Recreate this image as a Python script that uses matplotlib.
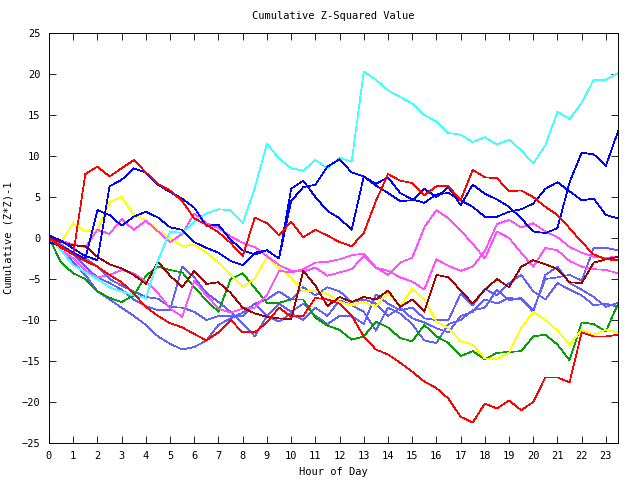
import numpy as np
import matplotlib
matplotlib.use("Agg")
import matplotlib.pyplot as plt

hours = np.arange(0, 24, 0.5)

cyan = [0, -1.5, -3.3, -4.2, -5.0, -6.0, -6.5, -7.0, -7.3, -2.7,
        0.8, 0.6, 2.0, 3.0, 3.5, 3.4, 1.8, 6.1, 11.5, 9.7,
        8.5, 8.2, 9.5, 8.5, 9.8, 9.3, 20.3, 19.3, 18.0, 17.2,
        16.4, 15.0, 14.2, 12.8, 12.6, 11.7, 12.3, 11.4, 12.0, 10.7,
        9.1, 11.3, 15.4, 14.5, 16.5, 19.3, 19.3, 20.1]
blue_a = [0.3, -0.3, -1.3, -2.2, -2.7, 6.3, 7.1, 8.5, 8.0, 6.5,
          5.6, 4.8, 3.7, 1.5, 1.6, -0.2, -1.5, -2.0, -1.5, -2.5,
          6.0, 7.0, 5.0, 3.3, 2.4, 1.0, 7.5, 6.6, 7.4, 5.5,
          4.7, 4.3, 5.3, 5.5, 4.6, 3.8, 2.6, 2.6, 3.2, 3.5,
          4.2, 6.0, 6.8, 5.7, 4.6, 4.8, 2.8, 2.4]
blue_b = [-0.5, -1.0, -1.8, -2.5, 3.4, 2.8, 1.5, 2.6, 3.2, 2.5,
          1.3, 1.0, -0.5, -1.2, -1.8, -2.8, -3.3, -1.8, -1.5, -2.5,
          4.5, 6.2, 6.5, 8.7, 9.6, 8.0, 7.5, 6.4, 5.5, 4.5,
          4.6, 6.0, 5.0, 6.2, 4.0, 6.5, 5.4, 4.7, 3.8, 2.4,
          0.8, 0.6, 1.2, 6.8, 10.4, 10.2, 8.8, 13.0]
red_1 = [0, -1.0, -2.0, 7.8, 8.7, 7.5, 8.5, 9.5, 8.0, 6.6,
         5.8, 4.5, 2.4, 1.6, 0.7, -0.6, -2.2, 2.5, 1.8, 0.3,
         2.0, 0.1, 1.0, 0.3, -0.5, -1.0, 0.6, 4.5, 7.8, 7.0,
         6.7, 5.2, 6.3, 6.3, 4.6, 8.3, 7.4, 7.3, 5.7, 5.8,
         5.0, 3.8, 2.8, 1.2, -0.5, -2.0, -2.6, -2.7]
red_2 = [0, -1.2, -2.0, -2.8, -3.5, -4.5, -5.4, -6.8, -8.4, -9.5,
         -10.4, -10.9, -11.7, -12.5, -11.5, -10.0, -11.5, -11.5, -10.3, -8.5,
         -9.6, -9.5, -7.3, -7.5, -8.0, -9.5, -12.0, -13.6, -14.2, -15.2,
         -16.3, -17.5, -18.3, -19.6, -21.8, -22.5, -20.2, -20.8, -19.8, -21.0,
         -20.0, -17.0, -17.0, -17.6, -11.5, -12.0, -12.0, -11.8]
dark_red = [0, -0.5, -0.9, -1.0, -2.3, -3.2, -3.7, -4.5, -5.6, -2.9,
            -4.6, -6.0, -4.0, -5.6, -5.4, -6.7, -8.5, -9.2, -9.6, -9.8,
            -9.9, -4.0, -5.8, -8.3, -7.2, -7.8, -7.2, -7.5, -6.4, -8.4,
            -7.5, -9.0, -4.5, -4.8, -6.4, -8.0, -6.3, -5.0, -6.0, -3.5,
            -2.7, -3.2, -3.8, -5.4, -5.5, -3.0, -2.6, -2.3]
magenta_l = [0, -1.5, -2.5, -4.0, -4.8, -4.5, -3.9, -4.3, -5.3, -6.7,
             -8.6, -9.6, -5.2, -7.0, -8.6, -9.1, -8.6, -8.5, -7.0, -4.0,
             -4.2, -3.8, -3.0, -2.9, -2.6, -2.1, -1.9, -3.6, -4.5, -3.0,
             -2.4, 1.3, 3.4, 2.4, 0.9, -0.7, -2.5, 0.8, 0.0, -1.8,
             -3.5, -1.2, -1.5, -2.8, -3.5, -3.8, -3.9, -4.3]
magenta_u = [0, -0.3, -0.8, -1.1, 1.0, 0.5, 2.3, 1.0, 2.1, 0.8,
             -0.5, 0.5, 3.0, 1.8, 1.2, 0.2, -0.6, -1.1, -2.2, -3.3,
             -4.0, -4.1, -3.6, -4.6, -4.2, -3.8, -2.2, -3.6, -4.0, -4.8,
             -5.3, -6.3, -2.6, -3.4, -4.0, -3.5, -1.6, 1.7, 2.2, 1.3,
             1.8, 0.8, 0.1, -1.1, -1.8, -2.3, -2.4, -2.3]
yellow = [0, -0.5, 1.8, 0.8, 1.0, 4.4, 5.0, 2.8, 2.2, 0.9,
          0.0, -1.0, -0.8, -1.8, -3.0, -4.5, -6.0, -4.9, -2.3, -3.7,
          -4.8, -6.5, -6.5, -6.8, -7.8, -8.2, -7.8, -8.3, -6.7, -8.4,
          -6.2, -7.5, -10.2, -11.0, -12.6, -13.0, -14.7, -14.8, -14.0, -11.0,
          -9.0, -10.0, -11.3, -13.0, -11.2, -11.8, -11.2, -11.5]
green = [0, -3.0, -4.3, -5.0, -6.5, -7.3, -7.8, -7.0, -4.6, -3.5,
         -3.9, -4.2, -6.0, -7.6, -9.0, -5.0, -4.3, -6.1, -7.9, -7.9,
         -7.5, -7.5, -9.7, -10.7, -11.2, -12.4, -12.0, -10.2, -10.9, -12.2,
         -12.6, -10.6, -12.0, -12.8, -14.4, -13.8, -14.8, -14.0, -13.9, -13.8,
         -12.0, -11.8, -13.0, -14.9, -10.3, -10.5, -11.4, -8.0]
slate_1 = [0, -1.5, -3.0, -4.5, -6.5, -7.5, -8.5, -9.5, -10.6, -12.0,
           -12.9, -13.6, -13.3, -12.5, -10.6, -9.8, -9.1, -8.0, -9.5, -10.2,
           -9.2, -10.0, -8.5, -9.5, -7.6, -8.2, -9.0, -11.3, -8.5, -9.2,
           -10.5, -12.5, -12.8, -10.5, -10.0, -8.8, -8.5, -6.3, -7.6, -7.3,
           -8.8, -5.0, -4.8, -4.5, -5.2, -1.2, -1.2, -1.5]
slate_2 = [0, -1.0, -2.0, -3.5, -4.8, -5.5, -6.3, -7.5, -8.3, -8.8,
           -8.8, -3.5, -4.8, -6.7, -7.8, -9.0, -10.4, -12.0, -9.5, -8.0,
           -9.0, -8.0, -9.5, -10.5, -9.5, -9.5, -10.5, -6.9, -8.0, -8.8,
           -8.5, -9.8, -10.0, -10.0, -6.8, -8.2, -6.2, -7.0, -5.5, -4.5,
           -6.5, -7.5, -5.5, -6.3, -7.0, -8.2, -8.0, -8.4]
slate_3 = [0, -0.8, -1.8, -2.5, -3.5, -5.0, -5.8, -6.5, -7.2, -7.4,
           -8.4, -8.5, -9.0, -10.0, -9.5, -9.5, -9.5, -8.0, -7.5, -6.5,
           -7.5, -6.0, -7.0, -6.0, -6.5, -7.8, -7.5, -8.0, -9.5, -8.5,
           -9.8, -10.3, -11.0, -11.5, -9.5, -9.0, -7.5, -8.0, -7.3, -7.5,
           -9.0, -4.5, -3.5, -5.5, -6.3, -7.2, -8.4, -7.9]

series = [
    (slate_1, "#6060ff"), (slate_2, "#6060ff"), (slate_3, "#6060ff"),
    (green, "#00a000"), (yellow, "#ffff00"), (magenta_l, "#ff50ff"),
    (magenta_u, "#ff50ff"), (dark_red, "#a00000"), (cyan, "#40ffff"),
    (blue_a, "#0000ff"), (blue_b, "#0000ff"), (red_2, "#ff0000"),
    (red_1, "#ff0000"),
]

plt.rcParams["font.family"] = ["DejaVu Sans Mono"]
fig = plt.figure(figsize=(6.4, 4.8), dpi=100)
ax = fig.add_axes([49 / 640, 1 - 443 / 480, (618 - 49) / 640, (443 - 33) / 480])

for vals, col in series:
    ax.plot(hours, vals, color=col, lw=0.5, antialiased=False)

ax.set_xlim(0, 23.5)
ax.set_ylim(-25, 25)
ax.set_xticks(range(0, 24))
ax.set_yticks(range(-25, 26, 5))
ax.tick_params(direction="in", length=5, width=0.6, labelsize=7.5,
               top=True, right=True, colors="black", pad=6)
for s in ax.spines.values():
    s.set_linewidth(0.7)
ax.set_title("Cumulative Z-Squared Value", fontsize=7.5, pad=10)
ax.set_xlabel("Hour of Day", fontsize=7.5, labelpad=4)
ax.set_ylabel("Cumulative (Z*Z)-1", fontsize=7.5, labelpad=6)

fig.savefig("out.png", dpi=100)
